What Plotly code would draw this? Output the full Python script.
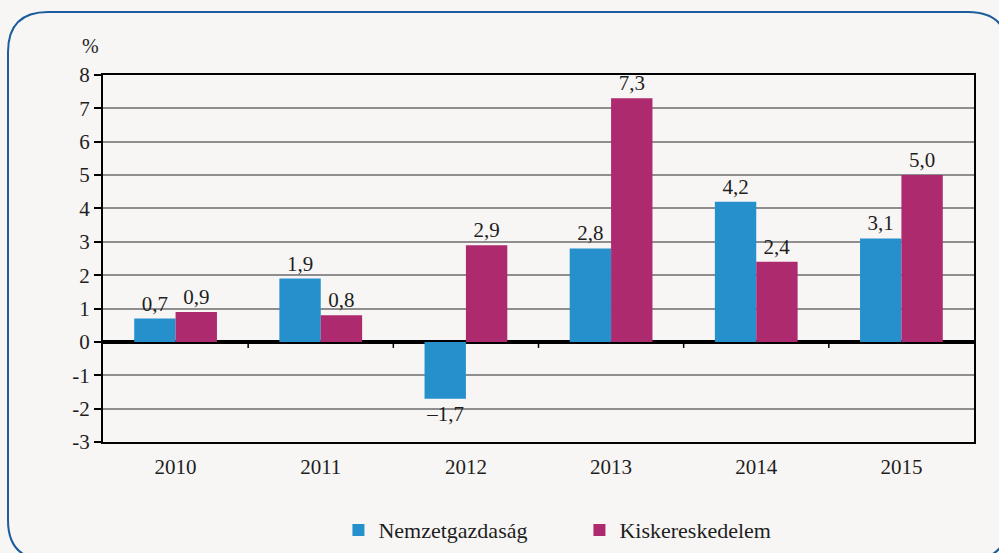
import plotly.graph_objects as go

years = ["2010", "2011", "2012", "2013", "2014", "2015"]
nemzetgazdasag = [0.7, 1.9, -1.7, 2.8, 4.2, 3.1]
kiskereskedelem = [0.9, 0.8, 2.9, 7.3, 2.4, 5.0]
series_names = ["Nemzetgazdaság", "Kiskereskedelem"]
y_ticks = [-3, -2, -1, 0, 1, 2, 3, 4, 5, 6, 7, 8]

def fmt(v):
    return f"{v:.1f}".replace(".", ",").replace("-", "–")

FONT = "Liberation Serif, DejaVu Serif, serif"
BG = "#F7F6F4"
TXT = "#1E1E1E"

fig = go.Figure()
for name, vals, col in [(series_names[0], nemzetgazdasag, "#2590CC"),
                        (series_names[1], kiskereskedelem, "#AD2A6F")]:
    fig.add_trace(go.Bar(
        x=years, y=vals, name=name, marker=dict(color=col, line=dict(width=0)),
        text=[fmt(v) for v in vals], textposition="outside",
        textfont=dict(family=FONT, size=21, color=TXT), cliponaxis=False,
    ))

W, H = 999, 553
L, R, T, B = 103, 25, 75, 111
pw, ph = W - L - R, H - T - B

def px(x):
    return (x - L) / pw

def py(y):
    return (H - B - y) / ph

l, t, r, b, rad = 8, 12, 1008, 560, 40
path = (f"M {px(l)},{py(t+rad)} Q {px(l)},{py(t)} {px(l+rad)},{py(t)} "
        f"L {px(r-rad)},{py(t)} Q {px(r)},{py(t)} {px(r)},{py(t+rad)} "
        f"L {px(r)},{py(b-rad)} Q {px(r)},{py(b)} {px(r-rad)},{py(b)} "
        f"L {px(l+rad)},{py(b)} Q {px(l)},{py(b)} {px(l)},{py(b-rad)} Z")

shapes = [dict(type="path", path=path, xref="paper", yref="paper",
               line=dict(color="#1D5C9C", width=2), layer="below")]
for i in range(1, len(years)):
    shapes.append(dict(type="line", xref="x", yref="y", x0=i - 0.5, x1=i - 0.5,
                       y0=0, y1=-0.18, line=dict(color="black", width=1.5)))

fig.update_layout(
    width=W, height=H, margin=dict(l=L, r=R, t=T, b=B, autoexpand=False),
    paper_bgcolor=BG, plot_bgcolor=BG,
    barmode="group", bargap=0.43, bargroupgap=0,
    font=dict(family=FONT, size=21, color=TXT),
    showlegend=True,
    legend=dict(orientation="h", x=0.547, xanchor="center", y=-0.24, yanchor="middle",
                font=dict(family=FONT, size=22, color=TXT), bgcolor="rgba(0,0,0,0)",
                itemwidth=30, tracegroupgap=0, entrywidthmode="pixels", entrywidth=196),
    xaxis=dict(showgrid=False, showline=True, linecolor="black", linewidth=2, mirror=True,
               ticks="", tickfont=dict(family=FONT, size=21, color=TXT), ticklabelstandoff=5),
    yaxis=dict(range=[-3, 8], tickvals=y_ticks, ticktext=[str(v) for v in y_ticks],
               showgrid=True, gridcolor="#8E8E8E", gridwidth=2,
               zeroline=True, zerolinecolor="black", zerolinewidth=4,
               showline=True, linecolor="black", linewidth=2, mirror=True,
               ticks="outside", ticklen=7, tickcolor="black", tickwidth=1.5,
               tickfont=dict(family=FONT, size=21, color=TXT)),
    shapes=shapes,
    annotations=[dict(text="%", xref="paper", yref="paper", x=px(80), y=py(33),
                      showarrow=False, font=dict(family=FONT, size=20, color=TXT))],
)

fig.write_html("out.html", config={"displayModeBar": False},
               post_script="document.body.style.margin='0';document.body.style.overflow='hidden';")
